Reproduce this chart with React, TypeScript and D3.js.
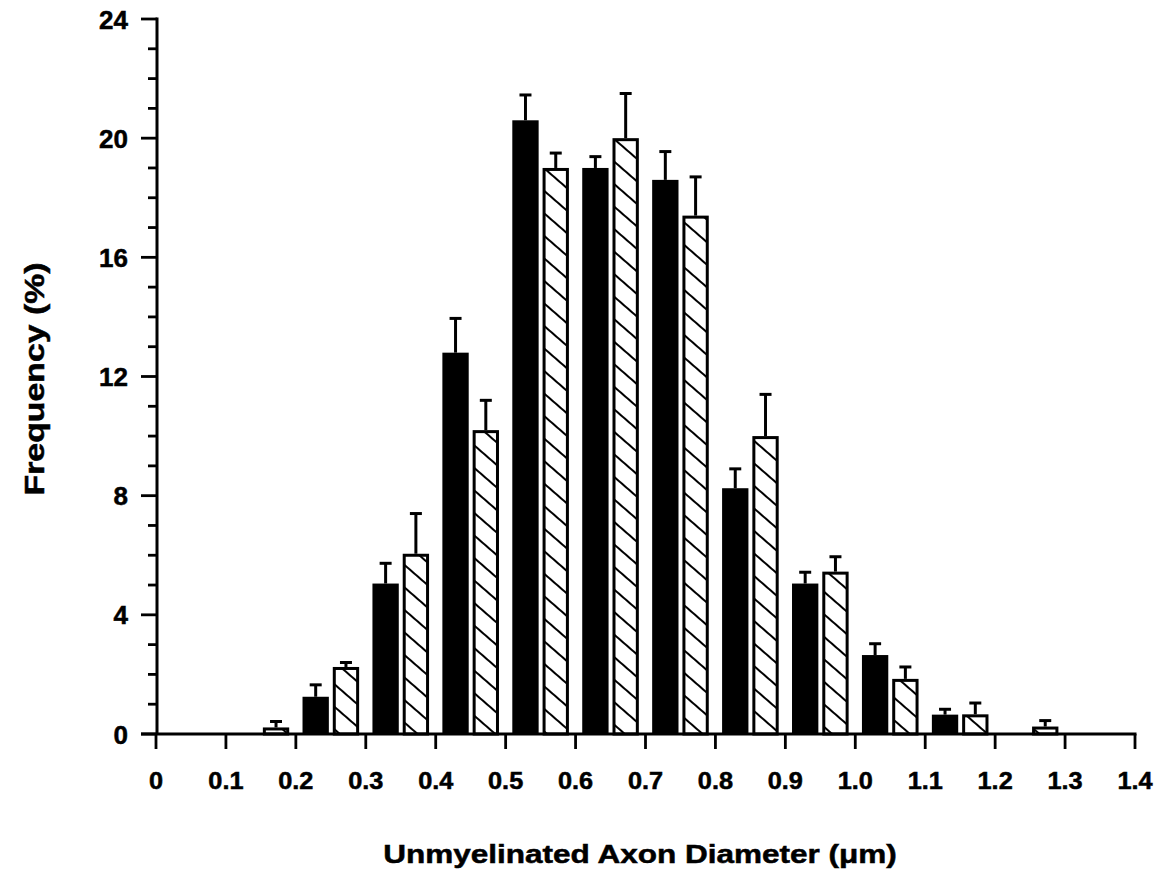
import React, { useEffect, useRef } from "react";
import * as d3 from "d3";

// bin start (µm); each bin is 0.1 wide
const binStarts = [0, 0.1, 0.2, 0.3, 0.4, 0.5, 0.6, 0.7, 0.8, 0.9, 1.0, 1.1, 1.2, 1.3];
// solid bars
const solidValues = [0, 0, 1.25, 5.05, 12.8, 20.6, 19.0, 18.6, 8.25, 5.05, 2.65, 0.65, 0, 0];
const solidErrors = [0, 0, 0.4, 0.68, 1.15, 0.85, 0.38, 0.95, 0.65, 0.38, 0.38, 0.18, 0, 0];
// hatched bars
const hatchValues = [0, 0.22, 2.25, 6.05, 10.2, 19.0, 20.0, 17.4, 10.0, 5.45, 1.85, 0.66, 0.25, 0];
const hatchErrors = [0, 0.2, 0.15, 1.35, 1.0, 0.5, 1.5, 1.3, 1.4, 0.5, 0.4, 0.38, 0.2, 0];

const xTickValues = [0, 0.1, 0.2, 0.3, 0.4, 0.5, 0.6, 0.7, 0.8, 0.9, 1.0, 1.1, 1.2, 1.3, 1.4];
const xTickLabels = ["0", "0.1", "0.2", "0.3", "0.4", "0.5", "0.6", "0.7", "0.8", "0.9", "1.0", "1.1", "1.2", "1.3", "1.4"];
const yTickValues = [0, 4, 8, 12, 16, 20, 24];
const yTickLabels = ["0", "4", "8", "12", "16", "20", "24"];

export default function App() {
  const ref = useRef<SVGSVGElement>(null);

  useEffect(() => {
    const svg = d3.select(ref.current);
    svg.selectAll("*").remove();
    const font = "'Liberation Sans', Arial, Helvetica, sans-serif";

    const x = d3.scaleLinear().domain([0, 1.4]).range([156, 1135]);
    const y = d3.scaleLinear().domain([0, 24]).range([734, 19]);
    const binW = x(0.1) - x(0);
    const inner = d3
      .scaleBand()
      .domain(["solid", "hatch"])
      .range([0, binW])
      .paddingInner(0.13)
      .paddingOuter(0.22);

    const defs = svg.append("defs");
    const pat = defs
      .append("pattern")
      .attr("id", "hatch")
      .attr("patternUnits", "userSpaceOnUse")
      .attr("width", 40)
      .attr("height", 17)
      .attr("patternTransform", "rotate(41)");
    pat.append("rect").attr("width", 40).attr("height", 17).attr("fill", "white");
    pat.append("line").attr("x1", 0).attr("x2", 40).attr("y1", 8).attr("y2", 8)
      .attr("stroke", "black").attr("stroke-width", 2.2);

    const rows = binStarts.map((b, i) => ({
      b,
      sv: solidValues[i],
      se: solidErrors[i],
      hv: hatchValues[i],
      he: hatchErrors[i],
    }));

    const g = svg.append("g");

    // error bars (upper only)
    const errs: { cx: number; v: number; e: number }[] = [];
    rows.forEach((r) => {
      if (r.sv > 0) errs.push({ cx: x(r.b) + inner("solid")! + inner.bandwidth() / 2, v: r.sv, e: r.se });
      if (r.hv > 0) errs.push({ cx: x(r.b) + inner("hatch")! + inner.bandwidth() / 2, v: r.hv, e: r.he });
    });
    g.selectAll("line.err").data(errs).enter().append("line")
      .attr("x1", (d) => d.cx).attr("x2", (d) => d.cx)
      .attr("y1", (d) => y(d.v)).attr("y2", (d) => y(d.v + d.e))
      .attr("stroke", "black").attr("stroke-width", 3);
    g.selectAll("line.cap").data(errs).enter().append("line")
      .attr("x1", (d) => d.cx - 6).attr("x2", (d) => d.cx + 6)
      .attr("y1", (d) => y(d.v + d.e)).attr("y2", (d) => y(d.v + d.e))
      .attr("stroke", "black").attr("stroke-width", 3);

    g.selectAll("rect.solid").data(rows.filter((r) => r.sv > 0)).enter().append("rect")
      .attr("x", (d) => x(d.b) + inner("solid")!)
      .attr("y", (d) => y(d.sv))
      .attr("width", inner.bandwidth())
      .attr("height", (d) => y(0) - y(d.sv))
      .attr("fill", "black");

    g.selectAll("rect.hatch").data(rows.filter((r) => r.hv > 0)).enter().append("rect")
      .attr("x", (d) => x(d.b) + inner("hatch")! + 1.5)
      .attr("y", (d) => y(d.hv) + 1.5)
      .attr("width", inner.bandwidth() - 3)
      .attr("height", (d) => y(0) - y(d.hv) - 1.5)
      .attr("fill", "url(#hatch)")
      .attr("stroke", "black")
      .attr("stroke-width", 3);

    // y axis
    const yAxis = svg.append("g");
    yAxis.append("line").attr("x1", 157).attr("x2", 157).attr("y1", y(24) - 1.5).attr("y2", y(0))
      .attr("stroke", "black").attr("stroke-width", 3);
    yAxis.selectAll("line.minor").data(d3.range(0, 25)).enter().append("line")
      .attr("x1", (d) => (d % 4 === 0 ? 141 : 148)).attr("x2", 157)
      .attr("y1", (d) => y(d)).attr("y2", (d) => y(d))
      .attr("stroke", "black").attr("stroke-width", 2.8);
    yAxis.selectAll("text").data(yTickValues).enter().append("text")
      .attr("transform", (d) => `translate(128,${y(d) + 9.5})`)
      .attr("text-anchor", "end")
      .attr("font-family", font).attr("font-weight", "bold").attr("font-size", 26)
      .attr("stroke", "black").attr("stroke-width", 0.5)
      .text((d, i) => yTickLabels[i]);

    // x axis
    const xAxis = svg.append("g");
    xAxis.append("line").attr("x1", 141).attr("x2", x(1.4) + 1.5).attr("y1", y(0)).attr("y2", y(0))
      .attr("stroke", "black").attr("stroke-width", 3.2);
    xAxis.selectAll("line.tick").data(xTickValues).enter().append("line")
      .attr("x1", (d) => x(d)).attr("x2", (d) => x(d))
      .attr("y1", y(0)).attr("y2", y(0) + 15)
      .attr("stroke", "black").attr("stroke-width", 2.8);
    xAxis.selectAll("text").data(xTickValues).enter().append("text")
      .attr("transform", (d) => `translate(${x(d)},789) scale(1.1,1)`)
      .attr("text-anchor", "middle")
      .attr("font-family", font).attr("font-weight", "bold").attr("font-size", 23)
      .attr("stroke", "black").attr("stroke-width", 0.5)
      .text((d, i) => xTickLabels[i]);

    svg.append("text")
      .attr("transform", "translate(640,863) scale(1.19,1)")
      .attr("text-anchor", "middle")
      .attr("font-family", font).attr("font-weight", "bold").attr("font-size", 26.5)
      .attr("stroke", "black").attr("stroke-width", 0.5)
      .text("Unmyelinated Axon Diameter (μm)");

    svg.append("text")
      .attr("transform", "translate(44,379) rotate(-90) scale(1.23,1)")
      .attr("text-anchor", "middle")
      .attr("font-family", font).attr("font-weight", "bold").attr("font-size", 27.5)
      .attr("stroke", "black").attr("stroke-width", 0.5)
      .text("Frequency (%)");
  }, []);

  return (
    <svg
      ref={ref}
      width={1164}
      height={874}
      style={{ position: "absolute", left: 0, top: 0, background: "white" }}
    />
  );
}
